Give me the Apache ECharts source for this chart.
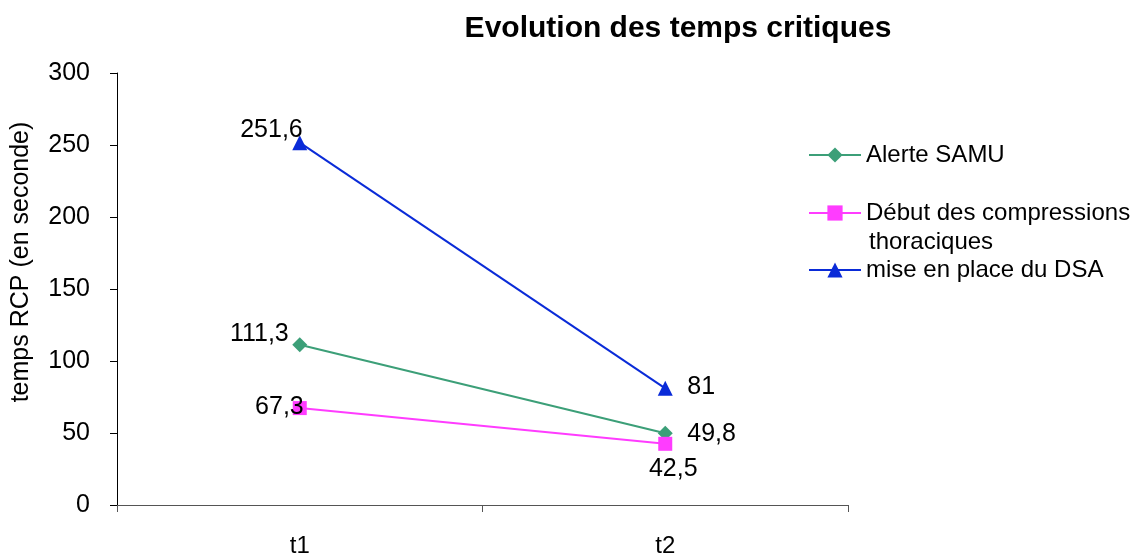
<!DOCTYPE html>
<html>
<head>
<meta charset="utf-8">
<script src="https://cdn.jsdelivr.net/npm/echarts@6/dist/echarts.min.js"></script>
<style>
html,body{margin:0;padding:0;background:#fff;}
#chart{width:1142px;height:554px;}
</style>
</head>
<body>
<div id="chart"></div>
<script>
// ---- data ----
var categories = ['t1', 't2'];
var seriesNames = ['Alerte SAMU', 'Début des compressions thoraciques', 'mise en place du DSA'];
var alerteSamu = [111.3, 49.8];
var debutCompressions = [67.3, 42.5];
var miseEnPlaceDSA = [251.6, 81];
var yTicks = { min: 0, max: 300, interval: 50 };

// ---- styles ----
var FONT = 'Liberation Sans, Arial, sans-serif';
var colors = ['#3c9f78', '#ff3cff', '#0a2bd8'];
var symbols = ['diamond', 'rect', 'triangle'];
var symbolSizes = [15, 14, 15];
// label placement per series, per point: [align, offsetX, offsetY]
var labelPlacement = [
  [['right', -11, -11], ['left', 22, 1]],
  [['right', 4, -1], ['center', 8, 25]],
  [['right', 3, -13], ['left', 22, -1]]
];

function fmt(v) { return String(v).replace('.', ','); }

function buildData(values, si) {
  return values.map(function (v, i) {
    var p = labelPlacement[si][i];
    return {
      value: v,
      label: {
        show: true,
        position: 'inside',
        align: p[0],
        verticalAlign: 'middle',
        offset: [p[1], p[2]],
        formatter: function (d) { return fmt(d.value); },
        color: '#000',
        fontSize: 25,
        fontFamily: FONT
      }
    };
  });
}

var seriesValues = [alerteSamu, debutCompressions, miseEnPlaceDSA];
var series = seriesValues.map(function (vals, si) {
  return {
    name: seriesNames[si],
    type: 'line',
    data: buildData(vals, si),
    symbol: symbols[si],
    symbolSize: symbolSizes[si],
    showAllSymbol: true,
    color: colors[si],
    lineStyle: { width: 2, color: colors[si] },
    itemStyle: { color: colors[si] },
    emphasis: { disabled: true },
    animation: false
  };
});

function legendAt(top, name, text) {
  return {
    show: true,
    left: 808,
    top: top,
    padding: 0,
    orient: 'vertical',
    data: [name],
    itemWidth: 52,
    itemHeight: 19,
    selectedMode: false,
    formatter: function () { return text; },
    textStyle: { color: '#000', fontSize: 24, fontFamily: FONT, lineHeight: 24 }
  };
}

var chart = echarts.init(document.getElementById('chart'), null, { renderer: 'canvas' });
chart.setOption({
  animation: false,
  backgroundColor: '#fff',
  title: {
    text: 'Evolution des temps critiques',
    left: 678,
    textAlign: 'center',
    top: 14,
    padding: 0,
    textStyle: { fontSize: 30, fontWeight: 'bold', color: '#000', fontFamily: FONT }
  },
  legend: [
    legendAt(143, seriesNames[0], 'Alerte SAMU'),
    legendAt(201, seriesNames[1], 'Début des compressions'),
    legendAt(258, seriesNames[2], 'mise en place du DSA')
  ],
  graphic: [{
    type: 'text',
    left: 869,
    top: 230,
    style: { text: 'thoraciques', fill: '#000', fontSize: 24, fontFamily: FONT }
  }],
  grid: { left: 117, right: 294, top: 73, bottom: 49, containLabel: false, outerBoundsMode: 'none' },
  xAxis: {
    type: 'category',
    data: categories,
    boundaryGap: true,
    axisLine: { show: true, lineStyle: { color: '#555', width: 1 } },
    axisTick: { show: true, length: 7, inside: false, alignWithLabel: false, lineStyle: { color: '#555' } },
    axisLabel: { margin: 29, color: '#000', fontSize: 24, fontFamily: FONT },
    splitLine: { show: false }
  },
  yAxis: {
    type: 'value',
    min: yTicks.min,
    max: yTicks.max,
    interval: yTicks.interval,
    name: 'temps RCP (en seconde)',
    nameLocation: 'middle',
    nameRotate: 90,
    nameGap: 83,
    nameTextStyle: { color: '#000', fontSize: 25, fontFamily: FONT, padding: [0, 0, 0, 54] },
    axisLine: { show: true, lineStyle: { color: '#000', width: 1 } },
    axisTick: { show: true, length: 7, inside: false, lineStyle: { color: '#000' } },
    axisLabel: { margin: 27, color: '#000', fontSize: 25, fontFamily: FONT },
    splitLine: { show: false }
  },
  series: series
});
</script>
</body>
</html>
